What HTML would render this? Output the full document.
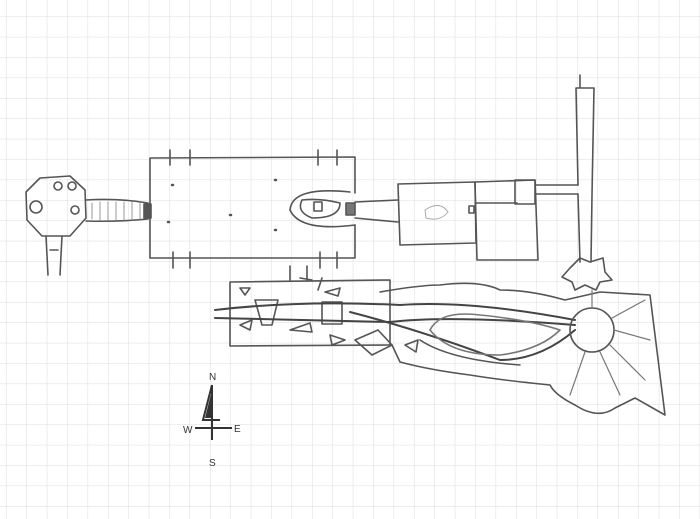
<!DOCTYPE html>
<html><head><style>
html,body{margin:0;padding:0;background:#fff;width:700px;height:519px;overflow:hidden}
</style></head><body>
<svg width="700" height="519" viewBox="0 0 700 519" xmlns="http://www.w3.org/2000/svg">
<defs>
<pattern id="g" x="6.5" y="-3.5" width="20.4" height="20.4" patternUnits="userSpaceOnUse">
<path d="M20.4 0V20.4M0 20.4H20.4" stroke="#dcdcdc" stroke-width="1" fill="none"/>
</pattern>
</defs>
<rect width="700" height="519" fill="#fff"/>
<rect width="700" height="519" fill="url(#g)"/>
<g fill="none" stroke="#555" stroke-width="1.6" stroke-linejoin="round" stroke-linecap="round">
<!-- octagon -->
<path d="M40 178 L70 176 L85 190 L86 218 L70 236 L42 236 L27 220 L26 192 Z"/>
<circle cx="36" cy="207" r="6"/><circle cx="72" cy="186" r="4"/><circle cx="75" cy="210" r="4"/><circle cx="58" cy="186" r="4"/>
<path d="M46 236 L48 275 M62 236 L60 275 M50 250 H58"/>
<!-- corridor -->
<path d="M86 200 Q118 198 148 203 M86 221 Q118 222 148 219"/>
<path d="M92 203 V219 M100 202 V220 M108 202 V220 M116 202 V220 M124 202 V220 M132 202 V220 M140 203 V219" stroke="#999" stroke-width="1"/>
<rect x="144" y="204" width="7" height="14" fill="#555"/>
<!-- big room -->
<path d="M355 193 L355 157 L150 158 L150 258 L355 258 L355 225"/>
<path d="M170 150 V165 M190 150 V165 M318 150 V165 M337 150 V165 M173 252 V268 M190 252 V268 M320 252 V268 M337 252 V268"/>
<path d="M355 225 Q300 232 290 210 Q292 186 350 192 M302 200 Q296 212 312 218 Q340 218 340 203 Q320 198 302 200" />
<rect x="314" y="202" width="8" height="9"/><rect x="346" y="203" width="9" height="12" fill="#777"/>
<path d="M172 185 h1 M230 215 h1 M275 180 h1 M275 230 h1 M168 222 h1" stroke-width="2.5"/>
<!-- connector to room2 -->
<path d="M355 202 L398 200 M355 218 L398 222"/>
<!-- room 2 -->
<path d="M398 184 L475 182 L476 243 L400 245 Z"/>
<path d="M425 210 Q440 200 448 212 Q440 222 426 218 Z" stroke="#aaa" stroke-width="1"/>
<rect x="469" y="206" width="5" height="7"/>
<!-- room 3 -->
<path d="M475 182 L535 180 L538 260 L477 260 Z M475 203 L517 203"/>
<rect x="515" y="180" width="20" height="24"/>
<path d="M535 185 H578 M535 194 H578"/>
<!-- vertical corridor -->
<path d="M576 88 L578 185 M594 88 L592 195 M578 194 L580 262 M592 195 L591 262 M576 88 H594 M580 75 V88"/>
<!-- star -->
<path d="M580 258 L590 262 L603 258 L605 272 L612 280 L600 282 L596 290 L585 285 L575 290 L572 282 L562 277 L570 268 Z"/>
<!-- lower room -->
<path d="M230 282 L390 280 L390 345 L230 346 Z"/>
<path d="M290 266 V280 M307 266 V280"/>
<path d="M300 278 L312 280 M322 278 L318 290"/>
<path d="M255 300 L278 300 L272 325 L262 325 Z"/>
<path d="M240 288 L250 288 L245 295 Z M325 292 L340 288 L338 296 Z M290 330 L310 323 L312 332 Z M240 325 L252 320 L250 330 Z M330 335 L345 340 L332 345 Z M405 345 L418 340 L416 352 Z"/>
<rect x="322" y="302" width="20" height="22"/>
<path d="M355 340 L378 330 L392 345 L372 355 Z"/>
<!-- streams -->
<g stroke="#444" stroke-width="2">
<path d="M215 310 Q300 300 400 305 Q470 300 575 320"/>
<path d="M215 318 Q300 320 390 322 Q450 315 575 325"/>
<path d="M350 312 Q420 330 500 360 Q540 360 575 330"/>
</g>
<!-- cave outline -->
<path d="M380 292 Q420 285 440 285 Q480 280 500 290 Q530 290 565 300 L600 292 L650 295 L665 415 L635 398 L615 408 Q598 420 575 405 Q555 395 550 385 Q500 380 470 375 Q430 370 400 362 L392 345"/>
<path d="M430 330 Q440 310 480 315 Q530 320 560 330 Q540 350 500 355 Q450 355 430 330" stroke="#777"/>
<path d="M420 340 Q450 360 520 365"/>
<circle cx="592" cy="330" r="22"/>
<path d="M592 290 L592 308 M614 330 L650 340 M610 345 L645 380 M600 352 L620 395 M585 352 L570 395 M612 318 L645 300" stroke="#777" stroke-width="1.2"/>
</g>
<!-- compass -->
<g fill="none" stroke="#333" stroke-width="2">
<path d="M212 385 L203 420 L220 420 M212 385 L212 440 M195 428 L232 428"/>
</g>
<path d="M212 390 L205 418 L212 418 Z" fill="#333"/>
<g font-family="Liberation Sans, sans-serif" font-size="10" fill="#333">
<text x="209" y="380">N</text><text x="183" y="433">W</text><text x="234" y="432">E</text><text x="209" y="466">S</text>
</g>
</svg>
</body></html>
